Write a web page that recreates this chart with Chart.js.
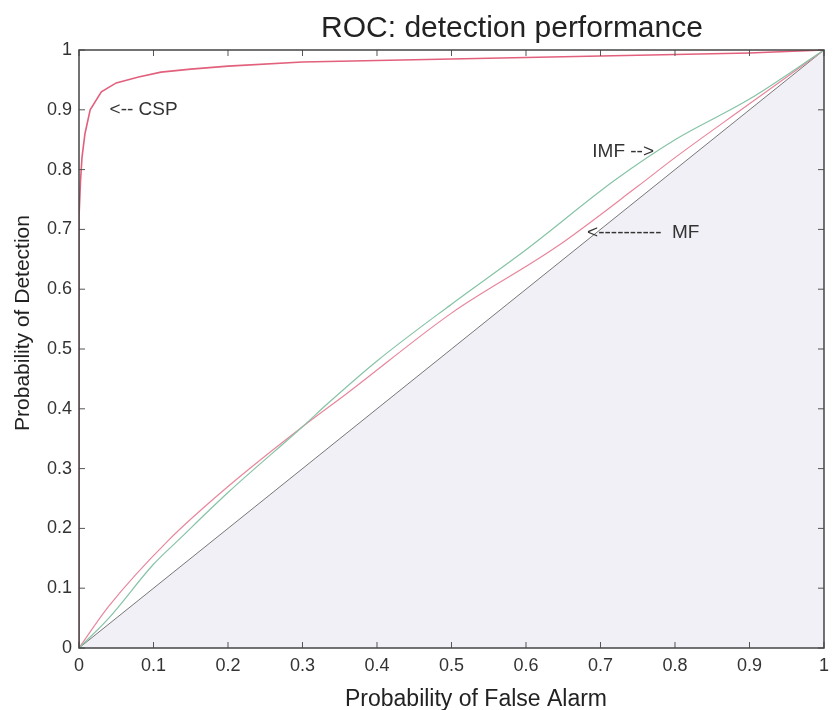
<!DOCTYPE html>
<html>
<head>
<meta charset="utf-8">
<script src="https://cdn.jsdelivr.net/npm/chart.js@4"></script>
<style>
  html, body { margin: 0; padding: 0; background: #fff; }
  #wrap { width: 836px; height: 710px; }
</style>
</head>
<body>
<div id="wrap"><canvas id="roc" width="836" height="710"></canvas></div>
<script>
// ===== DATA =====
const cspX = [0, 0, 0.002, 0.004, 0.008, 0.015, 0.03, 0.05, 0.08, 0.11, 0.15, 0.2, 0.3, 0.5, 0.7, 0.9, 1];
const cspY = [0, 0.72, 0.78, 0.82, 0.86, 0.9, 0.93, 0.945, 0.955, 0.963, 0.968, 0.973, 0.98, 0.985, 0.99, 0.995, 1];

const imfX = [0, 0.04, 0.1, 0.133, 0.2, 0.3, 0.335, 0.4, 0.5, 0.6, 0.72, 0.8, 0.9, 1];
const imfY = [0, 0.05, 0.14, 0.18, 0.26, 0.37, 0.41, 0.48, 0.575, 0.666, 0.783, 0.85, 0.918, 1];

const mfX = [0, 0.04, 0.12, 0.2, 0.3, 0.36, 0.5, 0.64, 0.75, 0.8, 0.9, 1];
const mfY = [0, 0.07, 0.18, 0.27, 0.37, 0.426, 0.56, 0.67, 0.772, 0.82, 0.91, 1];

const diagX = [0, 1];
const diagY = [0, 1];

const tickValues = [0, 0.1, 0.2, 0.3, 0.4, 0.5, 0.6, 0.7, 0.8, 0.9, 1];

const noteText = ["<-- CSP", "IMF -->", "<----------  MF"];
const noteX = [0.041, 0.689, 0.682];
const noteY = [0.9, 0.83, 0.694];

const titleText = "ROC: detection performance";
const xTitle = "Probability of False Alarm";
const yTitle = "Probability of Detection";

// ===== HELPERS =====
const pts = (xs, ys) => xs.map((x, i) => ({ x: x, y: ys[i] }));
const FONT = "'Liberation Sans', Arial, Helvetica, sans-serif";

// box + inward ticks, like the matlab axes, plus the notes and titles
const boxPlugin = {
  id: "box",
  afterDatasetsDraw(chart) {
    const ctx = chart.ctx;
    const a = chart.chartArea;
    const xs = chart.scales.x, ys = chart.scales.y;
    ctx.save();
    ctx.strokeStyle = "#555";
    ctx.lineWidth = 1;
    ctx.beginPath();
    tickValues.forEach(v => {
      const px = xs.getPixelForValue(v);
      ctx.moveTo(px, a.top); ctx.lineTo(px, a.top + 6);
      ctx.moveTo(px, a.bottom); ctx.lineTo(px, a.bottom - 6);
      const py = ys.getPixelForValue(v);
      ctx.moveTo(a.left, py); ctx.lineTo(a.left + 6, py);
      ctx.moveTo(a.right, py); ctx.lineTo(a.right - 6, py);
    });
    ctx.stroke();
    ctx.lineWidth = 1.5;
    ctx.strokeStyle = "#444";
    ctx.strokeRect(a.left, a.top, a.right - a.left, a.bottom - a.top);

    // text notes
    ctx.fillStyle = "#333";
    ctx.font = "19px " + FONT;
    ctx.textBaseline = "middle";
    ctx.textAlign = "left";
    noteText.forEach((t, i) => {
      ctx.fillText(t, xs.getPixelForValue(noteX[i]), ys.getPixelForValue(noteY[i]));
    });

    // title
    ctx.fillStyle = "#222";
    ctx.font = "30px " + FONT;
    ctx.textAlign = "center";
    ctx.textBaseline = "alphabetic";
    ctx.fillText(titleText, 512, 37);

    // axis titles
    ctx.font = "23px " + FONT;
    ctx.fillText(xTitle, 476, 706);
    ctx.font = "21px " + FONT;
    ctx.translate(29, 323);
    ctx.rotate(-Math.PI / 2);
    ctx.fillText(yTitle, 0, 0);
    ctx.restore();
  }
};

// ===== CHART =====
new Chart(document.getElementById("roc"), {
  type: "scatter",
  data: {
    datasets: [
      {
        label: "CSP",
        data: pts(cspX, cspY),
        showLine: true,
        borderColor: "#e2607c",
        borderWidth: 1.6,
        pointRadius: 0,
        tension: 0
      },
      {
        label: "IMF",
        data: pts(imfX, imfY),
        showLine: true,
        borderColor: "#86c3a6",
        borderWidth: 1.2,
        pointRadius: 0,
        cubicInterpolationMode: "monotone"
      },
      {
        label: "MF",
        data: pts(mfX, mfY),
        showLine: true,
        borderColor: "#e8869c",
        borderWidth: 1.2,
        pointRadius: 0,
        cubicInterpolationMode: "monotone"
      },
      {
        label: "chance",
        data: pts(diagX, diagY),
        showLine: true,
        borderColor: "#777",
        borderWidth: 1,
        pointRadius: 0,
        fill: "origin",
        backgroundColor: "#f0f0f6"
      }
    ]
  },
  options: {
    responsive: false,
    animation: false,
    layout: { padding: { left: 0, right: 0, top: 50, bottom: 0 } },
    plugins: {
      legend: { display: false },
      tooltip: { enabled: false },
      title: { display: false }
    },
    scales: {
      x: {
        type: "linear",
        min: 0,
        max: 1,
        afterBuildTicks: s => { s.ticks = tickValues.map(v => ({ value: v })); },
        afterFit: s => { s.height = 62; },
        grid: { display: false, drawTicks: false },
        border: { display: false },
        ticks: {
          color: "#333",
          padding: 7,
          maxRotation: 0,
          font: { family: FONT, size: 18 },
          callback: v => String(Math.round(v * 10) / 10)
        }
      },
      y: {
        type: "linear",
        min: 0,
        max: 1,
        afterBuildTicks: s => { s.ticks = tickValues.map(v => ({ value: v })); },
        afterFit: s => { s.width = 79; },
        grid: { display: false, drawTicks: false },
        border: { display: false },
        ticks: {
          color: "#333",
          padding: 7,
          font: { family: FONT, size: 18 },
          callback: v => String(Math.round(v * 10) / 10)
        }
      }
    }
  },
  plugins: [boxPlugin]
});
</script>
</body>
</html>
